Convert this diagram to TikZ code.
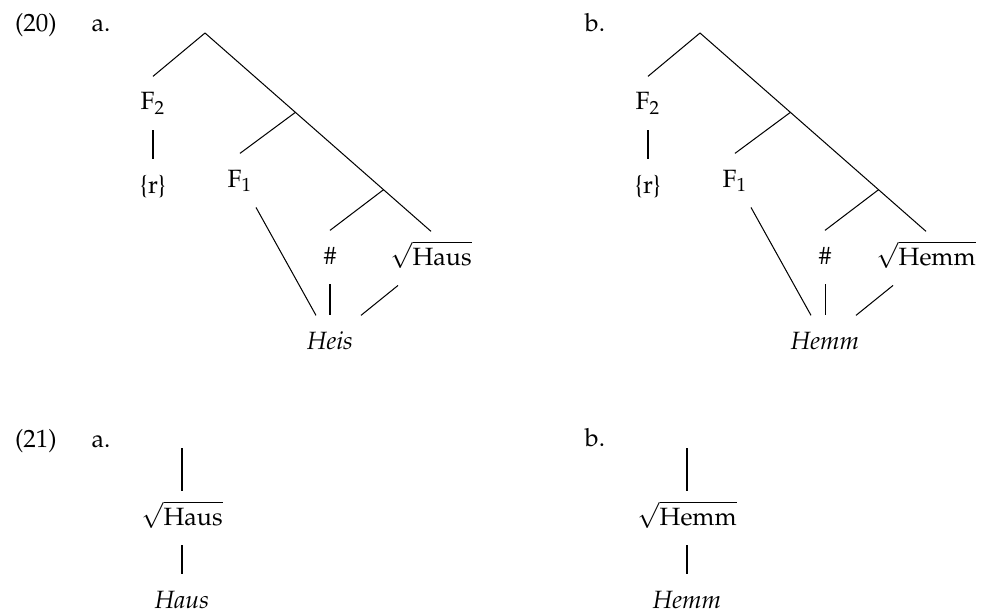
\documentclass[tikz,border=0pt]{standalone}
\usepackage[T1]{fontenc}
\usepackage{mathpazo}
\usepackage{amsmath}
\usepackage{tikz}
\usetikzlibrary{calc}

\begin{document}
\begin{tikzpicture}[
    x=0.44pt, y=-0.44pt,
    font=\fontsize{11}{13}\selectfont,
    lab/.style={anchor=base, inner xsep=3pt, inner ysep=6.2pt, text height=8.4pt, text depth=2.6pt},
    num/.style={anchor=base, inner sep=0pt},
    edge/.style={line width=0.45pt}
]
\useasboundingbox (0,0) rectangle (986,615);

\node[num] (ex20) at (36,32) {(20)};
\node[num] (ex20a) at (101,32) {a.};
\node[num] (ex20b) at (595,32) {b.};
\node[num] (ex21) at (36,447) {(21)};
\node[num] (ex21a) at (101,447) {a.};
\node[num] (ex21b) at (595,446) {b.};

\coordinate (a-top) at (205,33);
\node[lab] (a-f2) at (153,110) {F$_2$};
\node[lab] (a-r) at (153,193) {\{r\}};
\node[lab] (a-f1) at (240,187) {F$_1$};
\node[lab] (a-hash) at (330,264) {\#};
\node[lab] (a-root) at (431,265) {$\sqrt{\text{Haus}}$};
\node[lab] (a-word) at (330,349) {\textit{Heis}};
\coordinate (a-mid) at ($(a-top)!0.4!(a-root.north)$);
\coordinate (a-low) at ($(a-top)!0.79!(a-root.north)$);
\draw[edge] (a-top) -- (a-f2.north);
\draw[edge] (a-top) -- (a-mid) -- (a-low) -- (a-root.north);
\draw[edge] (a-mid) -- (a-f1.north);
\draw[edge] (a-low) -- (a-hash.north);
\draw[edge] (a-f2.south) -- (a-r.north);
\draw[edge] ($(a-f1.south)+(16,0)$) -- ($(a-word.north)+(-14,0)$);
\draw[edge] (a-hash.south) -- (a-word.north);
\draw[edge] ($(a-root.south)+(-33,0)$) -- ($(a-word.north)+(31,0)$);

\coordinate (b-top) at (700,33);
\node[lab] (b-f2) at (648,110) {F$_2$};
\node[lab] (b-r) at (648,193) {\{r\}};
\node[lab] (b-f1) at (735,187) {F$_1$};
\node[lab] (b-hash) at (825,264) {\#};
\node[lab] (b-root) at (926,265) {$\sqrt{\text{Hemm}}$};
\node[lab] (b-word) at (825,349) {\textit{Hemm}};
\coordinate (b-mid) at ($(b-top)!0.4!(b-root.north)$);
\coordinate (b-low) at ($(b-top)!0.79!(b-root.north)$);
\draw[edge] (b-top) -- (b-f2.north);
\draw[edge] (b-top) -- (b-mid) -- (b-low) -- (b-root.north);
\draw[edge] (b-mid) -- (b-f1.north);
\draw[edge] (b-low) -- (b-hash.north);
\draw[edge] (b-f2.south) -- (b-r.north);
\draw[edge] ($(b-f1.south)+(16,0)$) -- ($(b-word.north)+(-14,0)$);
\draw[edge] (b-hash.south) -- (b-word.north);
\draw[edge] ($(b-root.south)+(-33,0)$) -- ($(b-word.north)+(31,0)$);

\coordinate (c-top) at (182,448);
\node[lab] (c-root) at (182,525) {$\sqrt{\text{Haus}}$};
\node[lab] (c-word) at (182,608) {\textit{Haus}};
\draw[edge] (c-top) -- (c-root.north);
\draw[edge] (c-root.south) -- (c-word.north);

\coordinate (d-top) at (687,448);
\node[lab] (d-root) at (687,525) {$\sqrt{\text{Hemm}}$};
\node[lab] (d-word) at (687,608) {\textit{Hemm}};
\draw[edge] (d-top) -- (d-root.north);
\draw[edge] (d-root.south) -- (d-word.north);
\end{tikzpicture}
\end{document}
